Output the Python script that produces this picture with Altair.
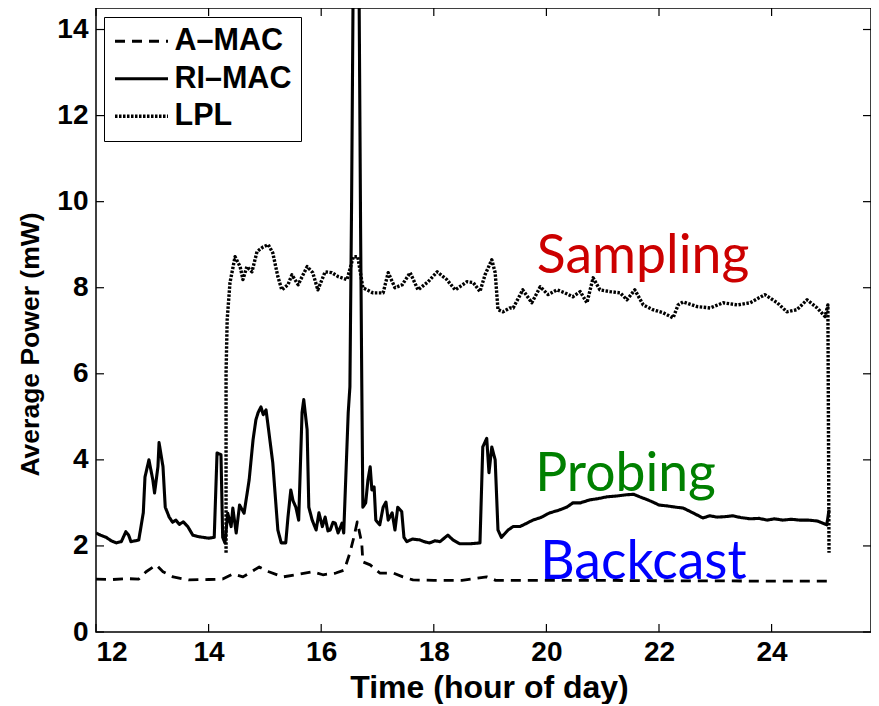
import altair as alt
import pandas as pd

# ---- data ----
series_names = ["A\u2013MAC", "RI\u2013MAC", "LPL"]

amac_h = [12.0, 12.3, 12.55, 12.76, 12.89, 13.07, 13.19, 13.37, 13.65, 14.0, 14.25, 14.43, 14.61, 14.9,
          15.07, 15.32, 15.55, 15.85, 16.03, 16.26, 16.41, 16.51, 16.58, 16.64, 16.72, 16.74, 16.87,
          17.04, 17.28, 17.45, 17.63, 18.0, 18.5, 18.94, 19.1, 19.5, 20.0, 21.0, 22.0, 23.0, 24.0, 25.0]
amac_v = [1.23, 1.22, 1.24, 1.23, 1.4, 1.56, 1.4, 1.28, 1.21, 1.22, 1.23, 1.35, 1.28, 1.51,
          1.4, 1.28, 1.33, 1.4, 1.33, 1.37, 1.44, 1.84, 2.2, 2.56, 2.07, 1.63, 1.56,
          1.37, 1.37, 1.28, 1.21, 1.2, 1.2, 1.28, 1.2, 1.2, 1.2, 1.2, 1.19, 1.19, 1.18, 1.18]

rimac_h = [12.0, 12.08, 12.18, 12.27, 12.36, 12.45, 12.53, 12.58, 12.62, 12.7, 12.76, 12.84, 12.87, 12.94,
           13.01, 13.04, 13.1, 13.12, 13.19, 13.23, 13.3, 13.36, 13.42, 13.48, 13.55, 13.63, 13.72,
           13.8, 13.9, 14.0, 14.1, 14.15, 14.22, 14.25, 14.29, 14.34, 14.4, 14.43, 14.49, 14.55, 14.63,
           14.72, 14.79, 14.84, 14.88, 14.93, 14.97, 15.02, 15.05, 15.14, 15.23, 15.29, 15.37, 15.41,
           15.46, 15.5, 15.55, 15.6, 15.66, 15.69, 15.75, 15.78, 15.84, 15.91, 15.96, 16.02, 16.07,
           16.12, 16.16, 16.21, 16.25, 16.3, 16.37, 16.4, 16.44, 16.48, 16.51, 16.54, 16.57, 16.67,
           16.70, 16.72, 16.74, 16.79, 16.83, 16.87, 16.9, 16.94, 16.97, 17.04, 17.1, 17.15, 17.19,
           17.26, 17.31, 17.36, 17.43, 17.47, 17.52, 17.62, 17.75, 17.85, 17.93, 18.02, 18.11, 18.25,
           18.34, 18.46, 18.64, 18.82, 18.87, 18.94, 18.98, 19.03, 19.09, 19.14, 19.2, 19.32, 19.41,
           19.53, 19.64, 19.76, 19.9, 20.06, 20.2, 20.36, 20.47, 20.6, 20.77, 20.92, 21.07, 21.25,
           21.43, 21.55, 21.66, 21.78, 21.89, 22.0, 22.14, 22.3, 22.43, 22.6, 22.78, 22.9, 23.03,
           23.17, 23.31, 23.45, 23.62, 23.78, 23.92, 24.05, 24.2, 24.35, 24.5, 24.65, 24.81, 24.98,
           25.02]
rimac_v = [2.3, 2.25, 2.2, 2.12, 2.07, 2.1, 2.33, 2.25, 2.1, 2.12, 2.14, 2.77, 3.6, 4.0,
           3.53, 3.23, 3.84, 4.4, 3.84, 2.9, 2.67, 2.55, 2.6, 2.5, 2.56, 2.45, 2.25,
           2.22, 2.2, 2.18, 2.2, 4.16, 4.12, 2.2, 2.07, 2.76, 2.45, 2.88, 2.3, 2.95, 2.76,
           3.53, 4.47, 4.93, 5.1, 5.23, 5.05, 5.16, 4.86, 3.93, 2.37, 2.07, 2.07, 2.67,
           3.3, 3.05, 2.9, 2.6, 5.1, 5.4, 4.7, 2.9, 2.6, 2.37, 2.77, 2.45, 2.67,
           2.35, 2.37, 2.55, 2.53, 2.3, 2.53, 2.3, 3.7, 5.1, 5.7, 10.0, 15.5, 15.5,
           9.3, 5.9, 2.9, 3.0, 3.53, 3.84, 3.3, 3.37, 2.6, 2.49, 2.9, 3.02, 2.6,
           2.77, 2.37, 2.9, 2.8, 2.2, 2.1, 2.16, 2.14, 2.09, 2.07, 2.12, 2.1, 2.25,
           2.14, 2.05, 2.05, 2.07, 4.3, 4.5, 3.7, 4.3, 4.0, 2.37, 2.2, 2.37, 2.45,
           2.45, 2.52, 2.6, 2.66, 2.77, 2.82, 2.9, 3.0, 3.0, 3.07, 3.1, 3.14, 3.16,
           3.19, 3.2, 3.14, 3.08, 3.02, 2.95, 2.93, 2.9, 2.88, 2.77, 2.65, 2.7, 2.67,
           2.68, 2.7, 2.66, 2.63, 2.64, 2.6, 2.63, 2.6, 2.62, 2.6, 2.6, 2.58, 2.49,
           2.84]

lpl_h = [14.31, 14.31, 14.33, 14.38, 14.47, 14.56, 14.61, 14.68, 14.77, 14.86, 14.97, 15.06, 15.14,
         15.23, 15.3, 15.41, 15.48, 15.59, 15.75, 15.85, 15.94, 16.07, 16.19, 16.3, 16.46, 16.57,
         16.65, 16.74, 16.92, 17.1, 17.19, 17.31, 17.44, 17.58, 17.72, 17.9, 18.06, 18.23, 18.38,
         18.59, 18.7, 18.82, 18.91, 19.03, 19.09, 19.14, 19.23, 19.35, 19.41, 19.58, 19.74, 19.89,
         20.03, 20.19, 20.33, 20.47, 20.6, 20.72, 20.83, 20.95, 21.13, 21.31, 21.43, 21.57, 21.72,
         21.89, 22.07, 22.25, 22.34, 22.43, 22.68, 22.91, 23.14, 23.39, 23.62, 23.88, 24.1, 24.27,
         24.45, 24.63, 24.81, 24.95, 25.0, 25.02]
lpl_v = [1.84, 6.0, 7.26, 8.12, 8.72, 8.49, 8.19, 8.49, 8.37, 8.84, 8.95, 9.0, 8.81,
         8.26, 7.95, 8.07, 8.3, 8.07, 8.49, 8.35, 7.95, 8.37, 8.35, 8.26, 8.19, 8.72,
         8.72, 8.0, 7.88, 7.88, 8.35, 8.0, 8.07, 8.35, 7.95, 8.14, 8.37, 8.19, 7.95,
         8.14, 8.12, 7.91, 8.3, 8.65, 8.35, 7.49, 7.44, 7.53, 7.53, 7.95, 7.65, 8.02,
         7.84, 7.95, 7.88, 7.79, 7.91, 7.65, 8.23, 7.95, 7.91, 7.88, 7.72, 7.95, 7.6,
         7.49, 7.42, 7.3, 7.6, 7.67, 7.56, 7.53, 7.65, 7.6, 7.65, 7.84, 7.65, 7.44,
         7.49, 7.72, 7.53, 7.33, 7.6, 1.84]

x_ticks = [12, 14, 16, 18, 20, 22, 24]
y_ticks = [0, 2, 4, 6, 8, 10, 12, 14]

note_text = ["Sampling", "Probing", "Backcast"]
note_x = [19.83, 19.8, 19.89]
note_y = [8.35, 3.28, 1.23]
note_colors = ["#cc0000", "#008000", "#0000ff"]

# ---- build tables ----
rows = []
for name, hs, vs in zip(series_names, [amac_h, rimac_h, lpl_h], [amac_v, rimac_v, lpl_v]):
    for i, (h, v) in enumerate(zip(hs, vs)):
        rows.append({"series": name, "hour": h, "power": v, "order": i})
df = pd.DataFrame(rows)
notes = pd.DataFrame({"label": note_text, "hour": note_x, "power": note_y})
xt = pd.DataFrame({"t": x_ticks})
yt = pd.DataFrame({"t": y_ticks})

W, H = 775, 624
XMAX = 12 + W / 56.3
FONT = "Liberation Sans"

xs = alt.Scale(domain=[12, XMAX], nice=False, zero=False)
ys = alt.Scale(domain=[0, 14.5], nice=False, zero=False)

lines = alt.Chart(df).mark_line(clip=True, color="black", strokeCap="butt", strokeJoin="round").encode(
    x=alt.X("hour:Q", scale=xs,
            axis=alt.Axis(values=x_ticks, format="d", title="Time (hour of day)",
                          titleX=393)),
    y=alt.Y("power:Q", scale=ys,
            axis=alt.Axis(values=y_ticks, format="d", title="Average Power (mW)",
                          titleFontSize=26.5, titleY=336)),
    strokeDash=alt.StrokeDash("series:N",
                              scale=alt.Scale(domain=series_names, range=[[10, 7], [1, 0], [2.5, 1.5]]),
                              legend=alt.Legend(title=None, orient="none", legendX=8, legendY=9)),
    strokeWidth=alt.StrokeWidth("series:N",
                                scale=alt.Scale(domain=series_names, range=[2.8, 3.4, 3.2]),
                                legend=None),
    order="order:Q",
)

notes_layer = alt.Chart(notes).mark_text(font="Lato", fontSize=53.5, align="left", baseline="alphabetic").encode(
    x=alt.X("hour:Q", scale=xs),
    y=alt.Y("power:Q", scale=ys),
    text="label:N",
    color=alt.Color("label:N", scale=alt.Scale(domain=note_text, range=note_colors), legend=None),
)

tick_style = dict(color="black", strokeWidth=1.2)
bt = alt.Chart(xt).mark_rule(**tick_style).encode(x=alt.X("t:Q", scale=xs), y=alt.value(H), y2=alt.value(H - 8))
tt = alt.Chart(xt).mark_rule(**tick_style).encode(x=alt.X("t:Q", scale=xs), y=alt.value(0), y2=alt.value(8))
lt = alt.Chart(yt).mark_rule(**tick_style).encode(y=alt.Y("t:Q", scale=ys), x=alt.value(0), x2=alt.value(8))
rt = alt.Chart(yt).mark_rule(**tick_style).encode(y=alt.Y("t:Q", scale=ys), x=alt.value(W), x2=alt.value(W - 8))

chart = alt.layer(lines, notes_layer, bt, tt, lt, rt).properties(
    width=W, height=H,
    autosize=alt.AutoSizeParams(type="none"),
    padding={"left": 88, "top": 0, "right": 0, "bottom": 72},
).configure_view(
    stroke="black", strokeWidth=1.5
).configure_axis(
    tickSize=0, domain=False, grid=False,
    labelFont=FONT, labelFontWeight="bold", labelFontSize=28, labelColor="black",
    titleFont=FONT, titleFontWeight="bold", titleFontSize=29, titleColor="black",
).configure_axisX(
    labelPadding=6, titlePadding=6, titleFontSize=32,
).configure_axisY(
    labelPadding=8, titlePadding=12,
).configure_legend(
    strokeColor="black", fillColor="white", padding=9, cornerRadius=0,
    labelFont=FONT, labelFontWeight="bold", labelFontSize=30.5, labelColor="black",
    symbolType="M-1,0H3", symbolSize=702, symbolStrokeWidth=3, symbolStrokeColor="black",
    labelOffset=31, rowPadding=6.5,
)

chart.save("out.html", embed_options={"renderer": "svg", "actions": False})
